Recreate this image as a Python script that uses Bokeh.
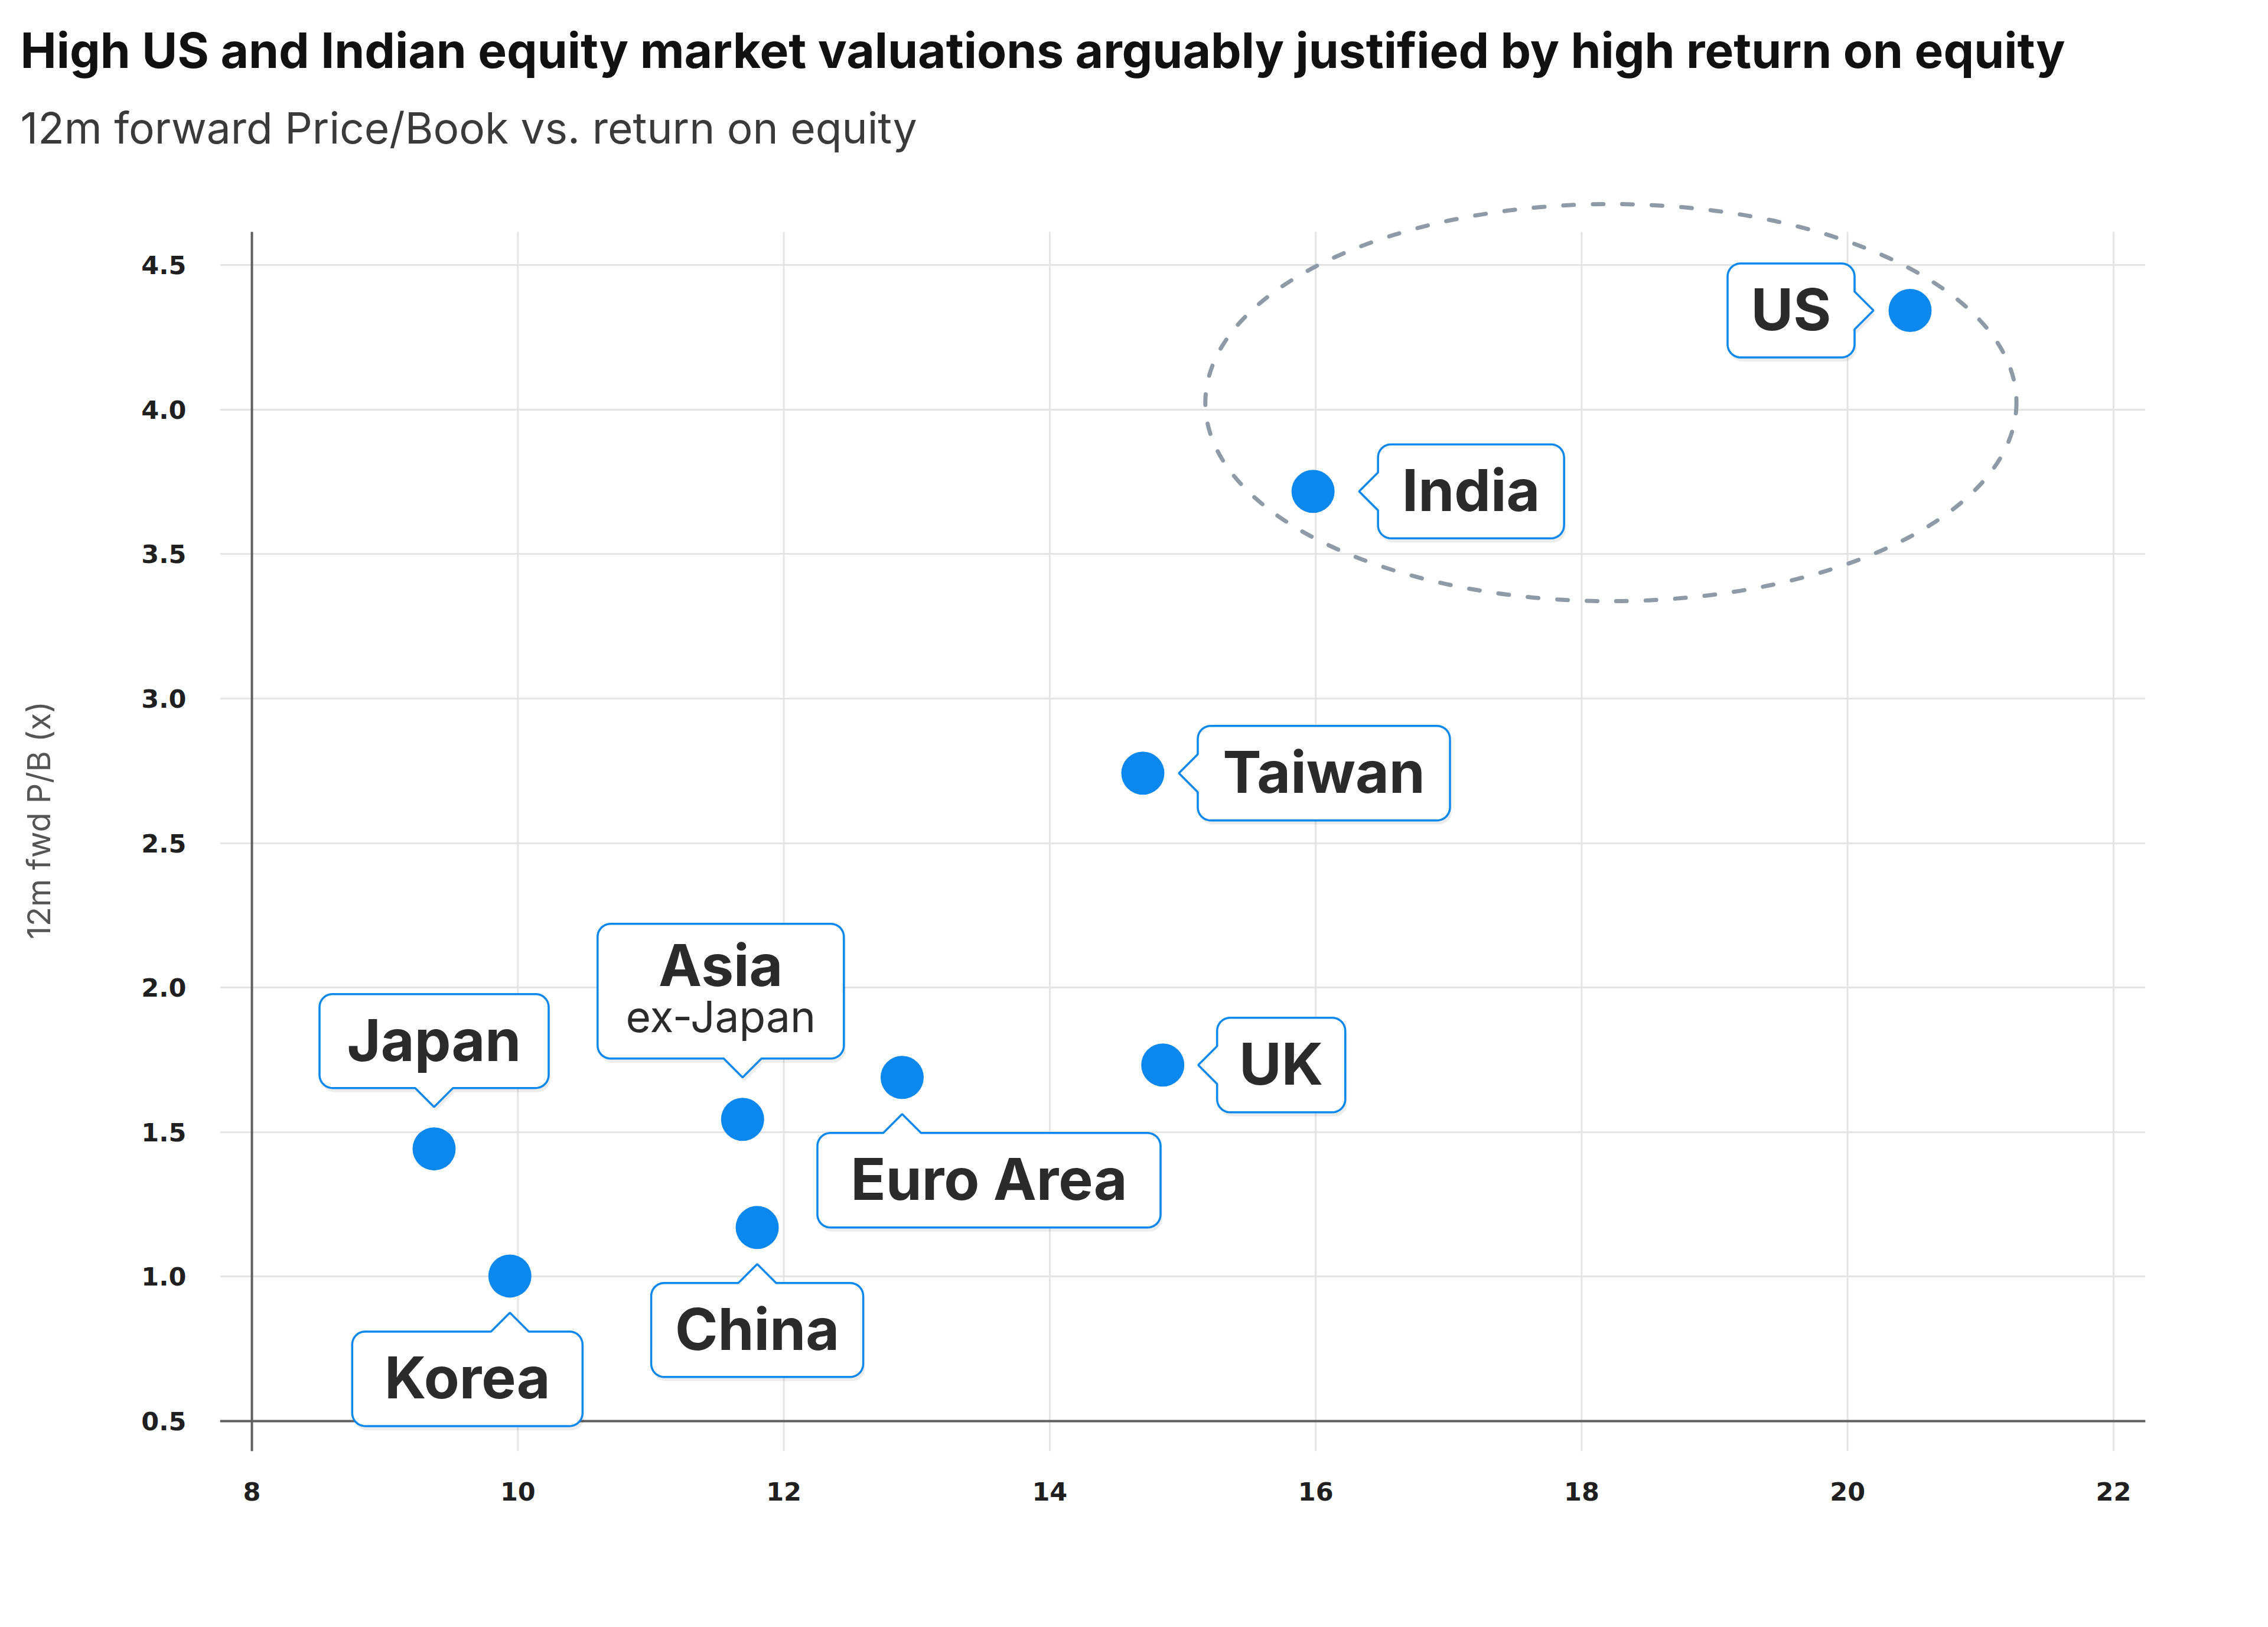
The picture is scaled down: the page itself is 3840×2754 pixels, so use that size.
import math
from bokeh.plotting import figure
from bokeh.models import FixedTicker, NumeralTickFormatter, Title, ColumnDataSource
from bokeh.core.properties import value
from bokeh.embed import file_html
from bokeh.resources import INLINE

# ---------------- data ----------------
COUNTRIES = ["US", "India", "Taiwan", "UK", "Euro Area", "Asia ex-Japan", "Japan", "China", "Korea"]
ROE = [20.47, 15.98, 14.70, 14.85, 12.89, 11.69, 9.37, 11.80, 9.94]      # return on equity (x)
PB = [4.343, 3.717, 2.742, 1.732, 1.689, 1.544, 1.442, 1.170, 1.002]     # 12m fwd P/B (y)
X_TICKS = [8, 10, 12, 14, 16, 18, 20, 22]
Y_TICKS = [0.5, 1.0, 1.5, 2.0, 2.5, 3.0, 3.5, 4.0, 4.5]

TITLE = "High US and Indian equity market valuations arguably justified by high return on equity"
SUBTITLE = "12m forward Price/Book vs. return on equity"
Y_LABEL = "12m fwd P/B (x)"

# ---------------- layout / style ----------------
W, H = 3840, 2754
FL, FR, FT, FB = 372, 3632, 320, 2456          # frame edges in px
X0, X1 = 7.76, 22.24
Y0, Y1 = 0.3957, 4.762
GRID_TOP = 4.615
KX = (FR - FL) / (X1 - X0)
KY = (FB - FT) / (Y1 - Y0)

BLUE = "#0b88f0"
TEXT = "#2b2b2b"
GRID = "#e4e4e4"
AXIS = "#5f5f5f"

ELLIPSE = dict(x=18.22, y=4.024, width=6.10, height=1.374)

# callout placement relative to its point (screen px)
CALLOUTS = {
    "US":            dict(side="left",  dist=94,  w=215, h=159, along=0),
    "India":         dict(side="right", dist=110, w=315, h=159, along=0),
    "Taiwan":        dict(side="right", dist=93,  w=427, h=160, along=0),
    "UK":            dict(side="right", dist=92,  w=217, h=160, along=0),
    "Euro Area":     dict(side="below", dist=94,  w=581, h=160, along=147),
    "Asia ex-Japan": dict(side="above", dist=103, w=417, h=228, along=-37),
    "Japan":         dict(side="above", dist=103, w=388, h=159, along=0),
    "China":         dict(side="below", dist=94,  w=359, h=159, along=0),
    "Korea":         dict(side="below", dist=94,  w=390, h=160, along=-72),
}
# text lines inside a callout: (text, bold?, font px, baseline offset from box top)
LINES = {
    "Asia ex-Japan": [("Asia", True, 98, 107), ("ex-Japan", False, 73, 185)],
}
BOLD_PX = 98
CAP = 0.727
BASE_FIX = 0.385   # renderer baseline correction (fraction of font size)


def callout_px(side, dist, w, h, along, depth=32, half=32, r=22):
    if side == "left":
        right = -dist; left = right - w; top = -h / 2 + along; bottom = top + h
    elif side == "right":
        left = dist; right = left + w; top = -h / 2 + along; bottom = top + h
    elif side == "above":
        bottom = -dist; top = bottom - h; left = -w / 2 + along; right = left + w
    else:
        top = dist; bottom = top + h; left = -w / 2 + along; right = left + w
    pts = []

    def arc(cx, cy, a0, a1, n=10):
        for i in range(n + 1):
            a = a0 + (a1 - a0) * i / n
            pts.append((cx + r * math.cos(a), cy + r * math.sin(a)))

    arc(left + r, top + r, math.pi, 1.5 * math.pi)
    if side == "below":
        pts.extend([(-half, top), (0, top - depth), (half, top)])
    arc(right - r, top + r, 1.5 * math.pi, 2 * math.pi)
    if side == "left":
        pts.extend([(right, -half), (right + depth, 0), (right, half)])
    arc(right - r, bottom - r, 0, 0.5 * math.pi)
    if side == "above":
        pts.extend([(half, bottom), (0, bottom + depth), (-half, bottom)])
    arc(left + r, bottom - r, 0.5 * math.pi, math.pi)
    if side == "right":
        pts.extend([(left, half), (left - depth, 0), (left, -half)])
    return pts, (left, top, right, bottom)


def to_data(x, y, pts, ox=0, oy=0):
    return ([x + (dx + ox) / KX for dx, dy in pts], [y - (dy + oy) / KY for dx, dy in pts])


p = figure(width=W, height=H, x_range=(X0, X1), y_range=(Y0, Y1),
           output_backend="svg", toolbar_location=None,
           min_border_left=FL, min_border_right=W - FR,
           min_border_top=FT, min_border_bottom=H - FB)
p.outline_line_color = None
p.background_fill_color = "white"
p.border_fill_color = "white"

# titles (subtitle added first so it sits closest to the frame)
p.add_layout(Title(text=SUBTITLE, align="left", offset=34 - FL, standoff=120,
                   text_font="Inter", text_font_style="normal", text_font_size="73px",
                   text_color="#3a3a3a"), "above")
p.add_layout(Title(text=TITLE, align="left", offset=34 - FL, standoff=-51,
                   text_font="Inter", text_font_style="bold", text_font_size="82px",
                   text_color="#111111"), "above")

# axes
p.xaxis.ticker = FixedTicker(ticks=X_TICKS)
p.yaxis.ticker = FixedTicker(ticks=Y_TICKS)
p.xaxis.formatter = NumeralTickFormatter(format="0")
p.yaxis.formatter = NumeralTickFormatter(format="0.0")
for ax in (p.xaxis, p.yaxis):
    ax.axis_line_color = None
    ax.major_tick_line_color = None
    ax.minor_tick_line_color = None
    ax.major_tick_out = 0
    ax.major_label_text_font = "DejaVu Sans"
    ax.major_label_text_font_style = "bold"
    ax.major_label_text_font_size = "43px"
    ax.major_label_text_color = "#1f1f1f"
p.xaxis.major_label_standoff = 52
p.yaxis.major_label_standoff = 57
p.yaxis.axis_label = Y_LABEL
p.yaxis.axis_label_text_font = "Inter"
p.yaxis.axis_label_text_font_style = "normal"
p.yaxis.axis_label_text_font_size = "54px"
p.yaxis.axis_label_text_color = "#555555"
p.yaxis.axis_label_standoff = 138

# grid
p.xgrid.grid_line_color = None
p.ygrid.ticker = FixedTicker(ticks=Y_TICKS)
p.ygrid.grid_line_color = GRID
p.ygrid.grid_line_width = 3
p.segment(x0=X_TICKS[1:], y0=[Y0] * (len(X_TICKS) - 1), x1=X_TICKS[1:], y1=[GRID_TOP] * (len(X_TICKS) - 1),
          line_color=GRID, line_width=3)
# axis lines
p.segment(x0=[X0], y0=[Y_TICKS[0]], x1=[X1], y1=[Y_TICKS[0]], line_color=AXIS, line_width=4)
p.segment(x0=[X_TICKS[0]], y0=[Y0], x1=[X_TICKS[0]], y1=[GRID_TOP], line_color=AXIS, line_width=4)

# dashed ellipse around US & India
p.ellipse(x=[ELLIPSE["x"]], y=[ELLIPSE["y"]], width=[ELLIPSE["width"]], height=[ELLIPSE["height"]],
          fill_color=None, line_color="#8e9ba7", line_width=7, line_dash="18 32", line_cap="round")

# callouts
sh_xs, sh_ys, bx_xs, bx_ys = [], [], [], []
bold_t = dict(x=[], y=[], text=[], xo=[], yo=[])
reg_t = dict(x=[], y=[], text=[], xo=[], yo=[], fs=[])
for name, x, y in zip(COUNTRIES, ROE, PB):
    c = CALLOUTS[name]
    pts, (l, t, r, b) = callout_px(c["side"], c["dist"], c["w"], c["h"], c["along"])
    xs, ys = to_data(x, y, pts)
    bx_xs.append(xs); bx_ys.append(ys)
    xs, ys = to_data(x, y, pts, 3, 7)
    sh_xs.append(xs); sh_ys.append(ys)
    cx = (l + r) / 2
    if name in LINES:
        for txt, bold, fs, base in LINES[name]:
            d = bold_t if bold else reg_t
            d["x"].append(x); d["y"].append(y); d["text"].append(txt)
            d["xo"].append(cx); d["yo"].append(t + base - BASE_FIX * fs)
            if not bold:
                d["fs"].append(f"{fs}px")
    else:
        bold_t["x"].append(x); bold_t["y"].append(y); bold_t["text"].append(name)
        bold_t["xo"].append(cx)
        bold_t["yo"].append((t + b) / 2 + CAP * BOLD_PX / 2 - BASE_FIX * BOLD_PX)

p.patches(sh_xs, sh_ys, fill_color="black", fill_alpha=0.07, line_color=None)
p.patches(bx_xs, bx_ys, fill_color="white", line_color=BLUE, line_width=3.5)
p.text(x="x", y="y", text="text", x_offset="xo", y_offset="yo", source=ColumnDataSource(bold_t),
       text_font=value("Inter"), text_font_style="bold", text_font_size=f"{BOLD_PX}px",
       text_color=TEXT, text_align="center", text_baseline="alphabetic")
p.text(x="x", y="y", text="text", x_offset="xo", y_offset="yo", source=ColumnDataSource(reg_t),
       text_font=value("Inter"), text_font_style="normal", text_font_size="fs",
       text_color=TEXT, text_align="center", text_baseline="alphabetic")

# points
p.scatter(ROE, PB, size=73, fill_color=BLUE, line_color=None)

open("out.html", "w").write(file_html(p, INLINE))
